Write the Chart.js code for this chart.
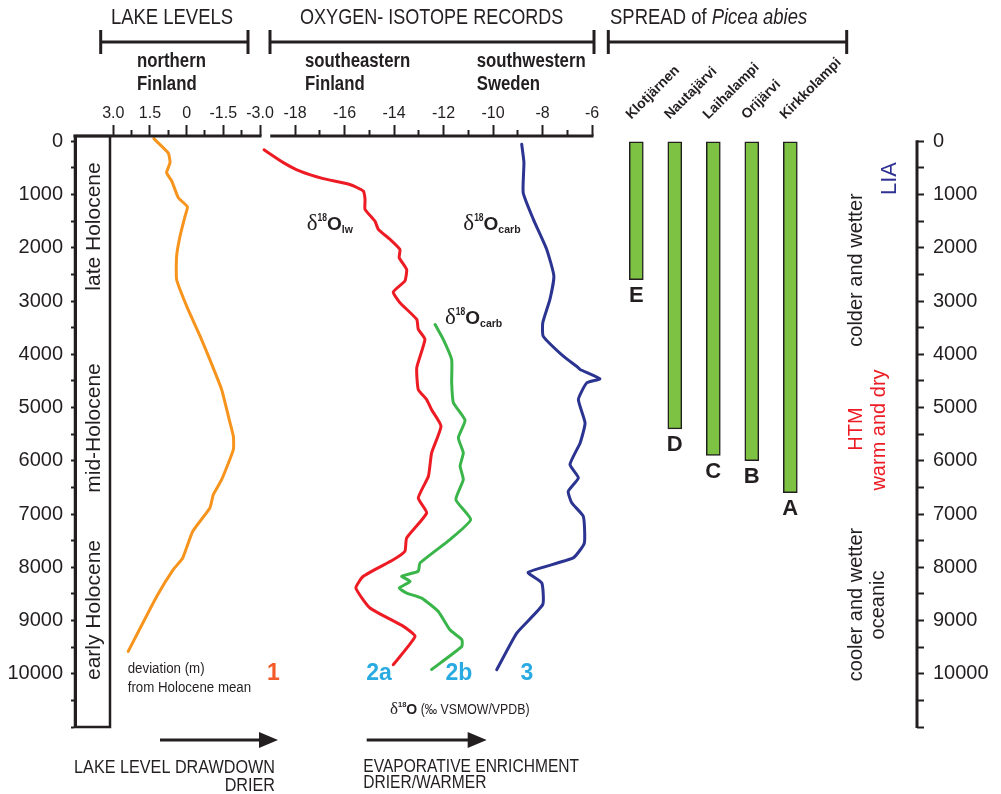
<!DOCTYPE html>
<html>
<head>
<meta charset="utf-8">
<title>Holocene lake levels, oxygen isotopes and spread of Picea abies</title>
<script src="https://cdn.jsdelivr.net/npm/chart.js@4/dist/chart.umd.min.js"></script>
<style>
  html, body { margin: 0; padding: 0; background: #fff; }
  canvas { display: block; }
</style>
</head>
<body>
<canvas id="chart" width="1001" height="794"></canvas>
<script>
// ---- age axis (cal. yr BP) ----
const ageMajor = [0, 1000, 2000, 3000, 4000, 5000, 6000, 7000, 8000, 9000, 10000];
const ageMinor = [500, 1500, 2500, 3500, 4500, 5500, 6500, 7500, 8500, 9500, 10500, 11000];
const ageMajorLabels = ['0', '1000', '2000', '3000', '4000', '5000', '6000', '7000', '8000', '9000', '10000'];

// ---- 1: lake level deviation (m) from Holocene mean, northern Finland ----
const lakeAge = [-50, 220, 400, 590, 745, 1060, 1230, 1415, 1780, 2155, 2595, 3095, 3660, 4100, 4660, 5225, 5540, 5790, 6355, 6635, 6885, 7325, 7825, 8045, 8545, 9580];
const lakeDeviation = [1.34, 0.75, 0.68, 0.82, 0.61, 0.34, -0.03, 0.07, 0.27, 0.41, 0.41, 0.0, -0.55, -0.95, -1.43, -1.74, -1.91, -1.91, -1.43, -1.09, -0.95, -0.25, 0.16, 0.55, 1.22, 2.39];
const lakeTicks = [3, 1.5, 0, -1.5, -3];
const lakeTickLabels = ['3.0', '1.5', '0', '-1.5', '-3.0'];
const lakeMinorTicks = [2.25, 0.75, -0.75, -2.25];

// ---- 2a: d18O lake water, southeastern Finland ----
const seLwAge = [160, 400, 560, 700, 810, 935, 1090, 1280, 1500, 1655, 1840, 2030, 2185, 2405, 2625, 2830, 3030, 3345, 3530, 3720, 4250, 4660, 4850, 5040, 5350, 5850, 6290, 6700, 6980, 7450, 7700, 7860, 8170, 8390, 8765, 9110, 9300, 9830];
const seLwD18O = [-19.25, -18.47, -17.8, -16.86, -15.78, -15.24, -15.17, -15.17, -14.77, -14.63, -14.16, -13.76, -13.79, -13.49, -13.56, -14.03, -13.76, -13.08, -13.02, -12.75, -13.08, -13.02, -12.68, -12.48, -12.1, -12.48, -12.61, -13.02, -12.68, -13.49, -13.56, -14.03, -15.24, -15.54, -14.97, -13.62, -13.15, -14.03];

// ---- 2b: d18O carbonate, southeastern Finland ----
const seCarbAge = [3440, 3720, 4100, 4535, 4910, 5240, 5570, 5850, 6100, 6355, 6730, 7105, 7480, 7920, 8075, 8170, 8265, 8390, 8485, 8580, 8830, 9175, 9360, 9485, 9920];
const seCarbD18O = [-12.34, -12.01, -11.67, -11.67, -11.6, -11.13, -11.4, -11.2, -11.33, -11.2, -11.5, -10.9, -11.74, -12.95, -13.02, -13.69, -13.35, -13.79, -13.49, -12.88, -12.21, -11.74, -11.26, -11.26, -12.48];

// ---- 3: d18O carbonate, southwestern Sweden ----
const swCarbAge = [55, 400, 965, 1465, 2030, 2530, 2970, 3410, 3660, 4035, 4225, 4285, 4460, 4535, 4850, 5290, 5665, 6070, 6320, 6575, 6790, 7045, 7545, 7825, 8095, 8295, 8700, 9235, 9925];
const swCarbD18O = [-8.84, -8.75, -8.78, -8.37, -7.83, -7.54, -7.7, -7.99, -7.97, -7.16, -6.62, -6.48, -5.68, -6.21, -6.55, -6.28, -6.48, -6.89, -6.55, -6.96, -6.82, -6.35, -6.31, -6.76, -8.58, -8.03, -7.99, -9.04, -9.85];

const isoTicks = [-18, -16, -14, -12, -10, -8, -6];
const isoTickLabels = ['-18', '-16', '-14', '-12', '-10', '-8', '-6'];
const isoMinorTicks = [-17, -15, -13, -11, -9, -7];

// ---- spread of Picea abies ----
const sites = ['Klotjärnen', 'Nautajärvi', 'Laihalampi', 'Orijärvi', 'Kirkkolampi'];
const siteLetters = ['E', 'D', 'C', 'B', 'A'];
const siteIndex = [0, 1, 2, 3, 4];
const spreadStart = [0, 0, 0, 0, 0];
const spreadEnd = [2600, 5400, 5900, 6000, 6600];

// ---- styling ----
const INK = '#231f20';
const ORANGE = '#f7941d';
const RED = '#ed1c24';
const GREEN = '#3ab54a';
const NAVY = '#2b3491';
const BAR_GREEN = '#7dc242';
const CYAN = '#29abe2';
const SANS = '"Liberation Sans", Arial, Helvetica, sans-serif';
const SERIF = '"Liberation Serif", "Times New Roman", serif';

Chart.defaults.font.family = SANS;
Chart.defaults.color = INK;

// plot frame in canvas pixels: left age axis, right age axis, top, bottom
const FRAME = { left: 75, right: 917, top: 136, bottom: 727, width: 1001 };

// every panel shares one plot area; each panel axis is set so that two
// reference values land on the given pixel columns
function panelSpan(v1, p1, v2, p2) {
  const k = (p2 - p1) / (v2 - v1);
  const a = v1 + (FRAME.left - p1) / k;
  const b = v1 + (FRAME.right - p1) / k;
  return { min: Math.min(a, b), max: Math.max(a, b), reverse: a > b };
}
const lakeSpan = panelSpan(3, 113.3, -3, 260);
const isoSpan = panelSpan(-18, 295, -6, 592);
const siteSpan = panelSpan(0, 636.3, 4, 790.3);

function topAxis(span, tickValues, tickLabels, tickLength) {
  return {
    type: 'linear', position: 'top', bounds: 'data', offset: false,
    min: span.min, max: span.max, reverse: span.reverse,
    afterBuildTicks: s => { s.ticks = tickValues.map(v => ({ value: v })); },
    afterFit: s => { s.height = 0; },
    border: { display: false },
    grid: { display: true, offset: false, drawOnChartArea: false, drawTicks: true, tickLength: tickLength, tickColor: INK, tickWidth: 2 },
    ticks: {
      display: !!tickLabels, autoSkip: false, minRotation: 0, maxRotation: 0, padding: 2,
      color: INK, font: { size: 16 },
      callback: v => tickLabels ? tickLabels[tickValues.indexOf(v)] : ''
    }
  };
}

const ageTicks = ageMajor.concat(ageMinor).sort((a, b) => a - b);
function ageAxis(position, width, tickLength, padding, showBorder) {
  return {
    type: 'linear', position: position, min: -100, max: 11000, reverse: true,
    afterBuildTicks: s => { s.ticks = ageTicks.map(v => ({ value: v })); },
    afterFit: s => { s.width = width; },
    border: { display: showBorder, color: INK, width: 3 },
    grid: { drawOnChartArea: false, drawTicks: true, tickLength: tickLength, tickColor: INK, tickWidth: 2 },
    ticks: {
      autoSkip: false, padding: padding, color: INK, font: { size: 20 },
      callback: v => { const i = ageMajor.indexOf(v); return i >= 0 ? ageMajorLabels[i] : ''; }
    }
  };
}

const toPoints = (xs, ys) => ys.map((y, i) => ({ x: xs[i], y: y }));

// the panel axes take no room in the layout; afterwards their boxes are
// stretched upwards so the tick labels above the plot are not clipped
const panelAxisRoom = {
  id: 'panelAxisRoom',
  afterLayout(chart) {
    ['xLake', 'xIso', 'xSite', 'xLakeMinor', 'xIsoMinor'].forEach(id => {
      const s = chart.scales[id];
      if (s) { s.top = 0; s.height = s.bottom - s.top; }
    });
  }
};

// ---- decoration helpers ----
function txt(ctx, s, x, y, o) {
  ctx.save();
  ctx.translate(x, y);
  if (o.rot) ctx.rotate(o.rot);
  ctx.scale(o.sx || 1, 1);
  ctx.font = o.font;
  ctx.fillStyle = o.color || INK;
  ctx.textAlign = o.align || 'left';
  ctx.textBaseline = 'alphabetic';
  ctx.fillText(s, 0, 0);
  ctx.restore();
}
function runs(ctx, x, y, parts, color) {
  let cx = x;
  ctx.save();
  ctx.fillStyle = color || INK;
  ctx.textAlign = 'left';
  ctx.textBaseline = 'alphabetic';
  for (const p of parts) {
    const sx = p.sx || 1;
    ctx.font = p.font;
    ctx.save();
    ctx.translate(cx, y + (p.dy || 0));
    ctx.scale(sx, 1);
    ctx.fillText(p.t, 0, 0);
    ctx.restore();
    cx += ctx.measureText(p.t).width * sx;
  }
  ctx.restore();
}
function bracket(ctx, x1, x2, y) {
  ctx.beginPath();
  ctx.moveTo(x1, y); ctx.lineTo(x2, y);
  ctx.moveTo(x1, y - 12); ctx.lineTo(x1, y + 12);
  ctx.moveTo(x2, y - 12); ctx.lineTo(x2, y + 12);
  ctx.stroke();
}
function arrow(ctx, x1, x2, y) {
  ctx.beginPath();
  ctx.moveTo(x1, y); ctx.lineTo(x2 - 16, y);
  ctx.stroke();
  ctx.beginPath();
  ctx.moveTo(x2, y); ctx.lineTo(x2 - 19, y - 8); ctx.lineTo(x2 - 19, y + 8);
  ctx.closePath();
  ctx.fill();
}
function deltaLabel(ctx, x, y, sub, color) {
  runs(ctx, x, y, [
    { t: 'δ', font: `23px ${SERIF}` },
    { t: '18', font: `bold 10px ${SANS}`, dy: -9, sx: 0.85 },
    { t: 'O', font: `bold 19px ${SANS}` },
    { t: sub, font: `bold 10.5px ${SANS}`, dy: 3 }
  ], color);
}

const decorations = {
  id: 'decorations',
  afterDraw(chart) {
    const { ctx, chartArea: A, scales } = chart;
    const y = v => scales.y.getPixelForValue(v);
    const xl = v => scales.xLake.getPixelForValue(v);
    const xi = v => scales.xIso.getPixelForValue(v);
    ctx.save();
    ctx.strokeStyle = INK;
    ctx.fillStyle = INK;
    ctx.lineCap = 'butt';

    // panel axis lines along the top of the plot
    ctx.lineWidth = 3;
    ctx.beginPath();
    ctx.moveTo(A.left - 1.5, A.top); ctx.lineTo(xl(-3) + 1.5, A.top);
    ctx.moveTo(xi(-19), A.top); ctx.lineTo(xi(-6) + 1.5, A.top);
    ctx.stroke();

    // Holocene subdivision box
    ctx.lineWidth = 2.5;
    ctx.strokeRect(A.left, A.top, 35, A.bottom - A.top);

    // right age axis line
    ctx.lineWidth = 3;
    ctx.beginPath();
    ctx.moveTo(A.right, y(0) - 1); ctx.lineTo(A.right, y(11000) + 1);
    ctx.stroke();

    // header brackets
    bracket(ctx, 100.7, 248, 42);
    bracket(ctx, 270, 594, 42);
    bracket(ctx, 608.3, 846.7, 42);

    // headers
    txt(ctx, 'LAKE LEVELS', 172, 24, { font: `22px ${SANS}`, align: 'center', sx: 0.84 });
    txt(ctx, 'OXYGEN- ISOTOPE RECORDS', 431.7, 24, { font: `22px ${SANS}`, align: 'center', sx: 0.82 });
    runs(ctx, 610, 24, [
      { t: 'SPREAD of ', font: `22px ${SANS}`, sx: 0.84 },
      { t: 'Picea abies', font: `italic 22px ${SANS}`, sx: 0.84 }
    ]);
    const sub = { font: `bold 19.5px ${SANS}`, sx: 0.86 };
    txt(ctx, 'northern', 137, 67, sub);
    txt(ctx, 'Finland', 137, 90, sub);
    txt(ctx, 'southeastern', 305, 67, sub);
    txt(ctx, 'Finland', 305, 90, sub);
    txt(ctx, 'southwestern', 476.7, 67, sub);
    txt(ctx, 'Sweden', 476.7, 90, sub);

    // Holocene subdivisions
    const up = -Math.PI / 2;
    const period = { font: `21px ${SANS}`, align: 'center', rot: up };
    txt(ctx, 'late Holocene', 100, 226.5, period);
    txt(ctx, 'mid-Holocene', 100, 428, period);
    txt(ctx, 'early Holocene', 100, 610, period);

    // climate notes on the right
    const note = c => ({ font: `20px ${SANS}`, align: 'center', rot: up, color: c });
    txt(ctx, 'colder and wetter', 861.5, 270, note(INK));
    txt(ctx, 'LIA', 896, 178.5, { font: `22px ${SANS}`, align: 'center', rot: up, color: '#2e3192' });
    txt(ctx, 'HTM', 861.5, 429, note(RED));
    txt(ctx, 'warm and dry', 884.5, 430, note(RED));
    txt(ctx, 'cooler and wetter', 861.5, 604.5, note(INK));
    txt(ctx, 'oceanic', 883.5, 605, note(INK));

    // record labels
    deltaLabel(ctx, 306.7, 230, 'lw', INK);
    deltaLabel(ctx, 463.3, 230, 'carb', INK);
    deltaLabel(ctx, 445, 324, 'carb', INK);

    // lake level unit note and record numbers
    txt(ctx, 'deviation (m)', 127.7, 673, { font: `14px ${SANS}`, sx: 0.95 });
    txt(ctx, 'from Holocene mean', 127.7, 691.5, { font: `14px ${SANS}`, sx: 0.95 });
    const num = c => ({ font: `bold 23px ${SANS}`, align: 'center', color: c });
    txt(ctx, '1', 273.5, 680, num('#f15a29'));
    txt(ctx, '2a', 379, 680, num(CYAN));
    txt(ctx, '2b', 459, 680, num(CYAN));
    txt(ctx, '3', 527, 680, num(CYAN));

    // isotope unit
    runs(ctx, 390, 713.5, [
      { t: 'δ', font: `17px ${SERIF}` },
      { t: '18', font: `bold 7.5px ${SANS}`, dy: -7 },
      { t: 'O', font: `bold 14px ${SANS}` },
      { t: ' (‰ VSMOW/VPDB)', font: `14px ${SANS}`, sx: 0.88 }
    ]);

    // direction arrows
    ctx.lineWidth = 3;
    arrow(ctx, 160, 278, 740);
    arrow(ctx, 366.7, 486.7, 740);
    const low = { font: `17.5px ${SANS}` };
    txt(ctx, 'LAKE LEVEL DRAWDOWN', 275, 773, { ...low, align: 'right', sx: 0.925 });
    txt(ctx, 'DRIER', 275, 790.5, { ...low, align: 'right', sx: 0.925 });
    txt(ctx, 'EVAPORATIVE ENRICHMENT', 363.3, 771.7, { ...low, sx: 0.89 });
    txt(ctx, 'DRIER/WARMER', 363.3, 788.3, { ...low, sx: 0.89 });

    // site letters under each Picea bar
    const bars = chart.getDatasetMeta(4).data;
    bars.forEach((el, i) => {
      const bottom = Math.max(el.y, el.base);
      txt(ctx, siteLetters[i], el.x, bottom + 22.5, { font: `bold 22px ${SANS}`, align: 'center' });
    });
    ctx.restore();
  }
};

const lineStyle = (color) => ({
  type: 'line', yAxisID: 'y', borderColor: color, borderWidth: 3,
  pointRadius: 0, tension: 0.15, fill: false, borderJoinStyle: 'round', borderCapStyle: 'round'
});

new Chart(document.getElementById('chart'), {
  type: 'line',
  data: {
    datasets: [
      { ...lineStyle(ORANGE), label: 'Lake level deviation (m)', xAxisID: 'xLake', data: toPoints(lakeDeviation, lakeAge) },
      { ...lineStyle(RED), label: 'δ18O lake water, SE Finland', xAxisID: 'xIso', data: toPoints(seLwD18O, seLwAge) },
      { ...lineStyle(GREEN), label: 'δ18O carbonate, SE Finland', xAxisID: 'xIso', data: toPoints(seCarbD18O, seCarbAge) },
      { ...lineStyle(NAVY), label: 'δ18O carbonate, SW Sweden', xAxisID: 'xIso', data: toPoints(swCarbD18O, swCarbAge) },
      {
        type: 'bar', label: 'Spread of Picea abies', xAxisID: 'xSite', yAxisID: 'y',
        data: siteIndex.map(i => ({ x: i, y: [spreadStart[i], spreadEnd[i]] })),
        backgroundColor: BAR_GREEN, borderColor: INK, borderWidth: 1.5, borderSkipped: false,
        barThickness: 14, grouped: false
      }
    ]
  },
  options: {
    responsive: false,
    animation: false,
    events: [],
    layout: { padding: { left: 0, right: 0, top: FRAME.top, bottom: 794 - FRAME.bottom } },
    plugins: { legend: { display: false }, tooltip: { enabled: false } },
    scales: {
      y: ageAxis('left', FRAME.left, 4, 8, true),
      y2: ageAxis('right', FRAME.width - FRAME.right, 7, 9, false),
      xLake: topAxis(lakeSpan, lakeTicks, lakeTickLabels, 11),
      xLakeMinor: topAxis(lakeSpan, lakeMinorTicks, null, 6),
      xIso: topAxis(isoSpan, isoTicks, isoTickLabels, 11),
      xIsoMinor: topAxis(isoSpan, isoMinorTicks, null, 6),
      xSite: {
        type: 'linear', position: 'top', bounds: 'data', offset: false,
        min: siteSpan.min, max: siteSpan.max,
        afterBuildTicks: s => { s.ticks = siteIndex.map(v => ({ value: v })); },
        afterFit: s => { s.height = 0; },
        border: { display: false },
        grid: { display: false, drawTicks: false, offset: false },
        ticks: {
          autoSkip: false, minRotation: 45, maxRotation: 45, padding: 13, labelOffset: 4,
          color: INK, font: { size: 14, weight: 'bold' },
          callback: v => sites[v]
        }
      }
    }
  },
  plugins: [panelAxisRoom, decorations]
});
</script>
</body>
</html>
